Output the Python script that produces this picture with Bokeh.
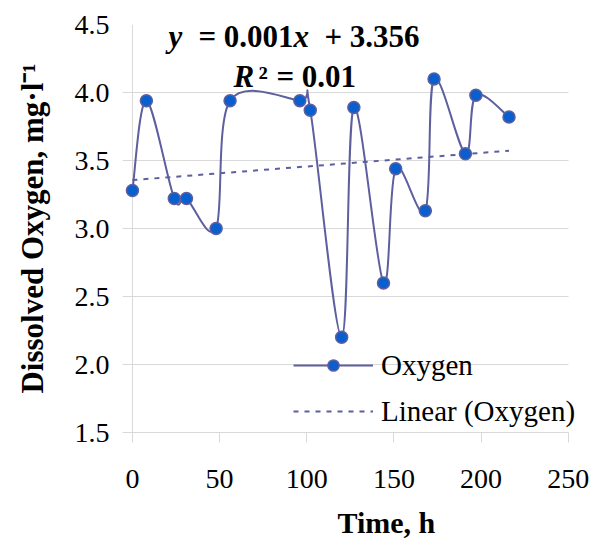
import numpy as np
from bokeh.plotting import figure
from bokeh.models import Range1d, Span, Label, Legend, LegendItem, FixedTicker, NumeralTickFormatter, Title
from bokeh.embed import file_html
from bokeh.resources import INLINE

# ---- data ----
time_h = [0, 8, 24, 31, 48, 56, 96, 102, 120, 127, 144, 151, 168, 173, 191, 197, 216]
oxygen = [3.28, 3.94, 3.22, 3.22, 3.00, 3.94, 3.94, 3.87, 2.20, 3.89, 2.60, 3.44, 3.13, 4.10, 3.55, 3.98, 3.82]
x_ticks = [0, 50, 100, 150, 200, 250]
y_ticks = [1.5, 2.0, 2.5, 3.0, 3.5, 4.0, 4.5]
trend_slope = 0.001      # from the chart's printed equation
trend_intercept = 3.356
series_name = "Oxygen"
trend_name = "Linear (Oxygen)"
x_title = "Time, h"
y_title = "Dissolved Oxygen, mg·l⁻¹"
eq_line1 = [("y", "bold italic"), ("= 0.001", "bold"), ("x", "bold italic"), ("+ 3.356", "bold")]
eq_line2 = [("R", "bold italic"), ("²", "bold"), ("= 0.01", "bold")]

FONT = "Liberation Serif"
LINE = "#5D5F9E"
FILL = "#0A5FCF"
GRID = "#D9D9D9"
X0, X1 = -5.7, 250

p = figure(width=595, height=545, frame_width=458, frame_height=408,
           x_range=Range1d(X0, 257), y_range=Range1d(1.5, 4.5),
           output_backend="svg", toolbar_location=None,
           min_border_left=122, min_border_right=15, min_border_top=24, min_border_bottom=113)
p.outline_line_color = None
p.background_fill_color = "white"
p.border_fill_color = "white"

p.xgrid.visible = False
p.ygrid.ticker = FixedTicker(ticks=y_ticks)
p.ygrid.grid_line_color = GRID
p.ygrid.grid_line_width = 1
p.ygrid.cross_bounds = (X0, X1)

# x axis
xa = p.xaxis[0]
xa.ticker = FixedTicker(ticks=x_ticks)
xa.bounds = (X0, X1)
xa.axis_line_color = GRID
xa.major_tick_line_color = GRID
xa.major_tick_out = 10
xa.major_tick_in = 0
xa.minor_tick_line_color = None
xa.major_label_text_font = FONT
xa.major_label_text_font_size = "28px"
xa.major_label_text_color = "black"
xa.major_label_standoff = 27

# y axis
ya = p.yaxis[0]
ya.ticker = FixedTicker(ticks=y_ticks)
ya.formatter = NumeralTickFormatter(format="0.0")
ya.axis_line_color = None
ya.major_tick_line_color = None
ya.major_tick_out = 0
ya.major_tick_in = 0
ya.minor_tick_line_color = None
ya.major_label_text_font = FONT
ya.major_label_text_font_size = "28px"
ya.major_label_text_color = "black"
ya.major_label_standoff = 13
ya.axis_label = y_title
ya.axis_label_text_font = FONT
ya.axis_label_text_font_size = "31px"
ya.axis_label_text_font_style = "bold"
ya.axis_label_text_color = "black"
ya.axis_label_standoff = 22

vline = Span(location=0, dimension="height", line_color=GRID, line_width=1, level="underlay")
p.add_layout(vline)

# smoothed line (Catmull-Rom style Bezier, computed from the data)
P = np.column_stack([time_h, oxygen]).astype(float)
n = len(P)
bx0, by0, bx1, by1, cx0, cy0, cx1, cy1 = [], [], [], [], [], [], [], []
for i in range(n - 1):
    prev = P[i - 1] if i > 0 else P[i]
    nxt = P[i + 2] if i + 2 < n else P[i + 1]
    c1 = P[i] + (P[i + 1] - prev) / 6.0
    c2 = P[i + 1] - (nxt - P[i]) / 6.0
    bx0.append(P[i][0]); by0.append(P[i][1])
    bx1.append(P[i + 1][0]); by1.append(P[i + 1][1])
    cx0.append(c1[0]); cy0.append(c1[1])
    cx1.append(c2[0]); cy1.append(c2[1])

bez = p.bezier(x0=bx0, y0=by0, x1=bx1, y1=by1, cx0=cx0, cy0=cy0, cx1=cx1, cy1=cy1,
               line_color=LINE, line_width=2)

# linear trend
tx = [min(time_h), max(time_h)]
ty = [trend_intercept + trend_slope * v for v in tx]
trend = p.line(tx, ty, line_color=LINE, line_width=2, line_dash="5 6")

pts = p.scatter(time_h, oxygen, size=12, fill_color=FILL, line_color=LINE, line_width=1.5)

legend = Legend(items=[LegendItem(label=series_name, renderers=[bez, pts]),
                       LegendItem(label=trend_name, renderers=[trend])],
                location=(171, 3), glyph_width=80, glyph_height=28, label_height=36,
                label_standoff=8, spacing=10, padding=0, margin=0,
                border_line_color=None, background_fill_alpha=0,
                label_text_font=FONT, label_text_font_size="29px", label_text_color="black")
p.add_layout(legend)

# equation text
eq_x = 19.5
offs1 = [2, 32, 127, 158]
offs2 = [67, 92, 110]
for (txt, style), off in zip(eq_line1, offs1):
    p.add_layout(Label(x=eq_x, y=4.415, x_offset=off, text=txt, text_font=FONT,
                       text_font_size="31px", text_font_style=style, text_color="black",
                       text_align="left", text_baseline="alphabetic"))
for (txt, style), off in zip(eq_line2, offs2):
    p.add_layout(Label(x=eq_x, y=4.12, x_offset=off, text=txt, text_font=FONT,
                       text_font_size="31px", text_font_style=style, text_color="black",
                       text_align="left", text_baseline="alphabetic"))

# x title
p.add_layout(Title(text=x_title, align="left", offset=215, standoff=27, text_font=FONT,
                   text_font_size="30px", text_font_style="bold", text_color="black"), "below")

open("out.html", "w").write(file_html(p, INLINE))
